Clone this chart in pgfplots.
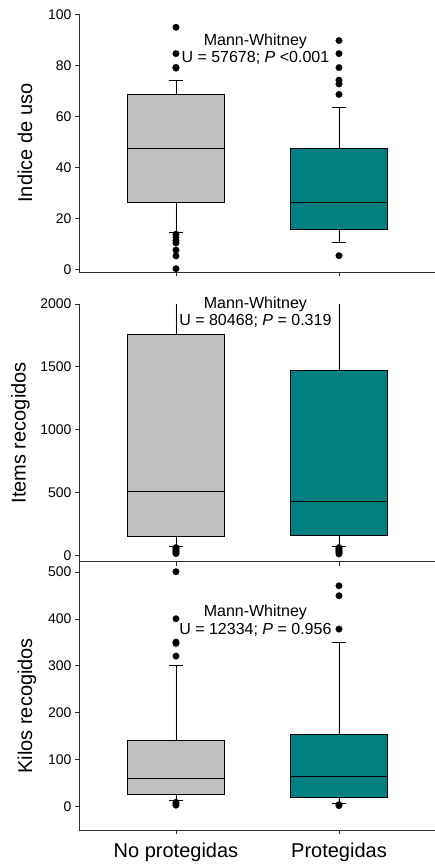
\documentclass[border=0pt]{standalone}
\usepackage{fontspec}
\setmainfont{Liberation Sans}
\usepackage{pgfplots}
\pgfplotsset{compat=1.18}
\usepgfplotslibrary{statistics}
\definecolor{boxgray}{RGB}{192,192,192}
\definecolor{boxteal}{RGB}{0,128,128}
\definecolor{axcol}{RGB}{45,45,45}
\tikzset{mw/.style={font=\fontsize{16}{18}\selectfont, anchor=base, inner sep=0pt}}
\pgfplotsset{
  panel/.style={
    scale only axis, width=356pt,
    xmin=0.405, xmax=2.589,
    axis x line*=bottom, axis y line*=left,
    axis line style={-, draw=axcol, line width=0.9pt},
    tick align=outside, major tick length=4pt,
    tick style={draw=axcol, line width=0.8pt},
    xtick={1,2},
    clip mode=individual,
    /pgf/number format/assume math mode=true,
    /pgf/number format/1000 sep={},
    yticklabel style={font=\fontsize{14}{16}\selectfont},
    xticklabel style={font=\fontsize{20}{24}\selectfont, yshift=-5pt},
    ylabel style={font=\fontsize{20}{24}\selectfont, anchor=base},
    boxplot/draw direction=y,
  },
  gbox/.style={fill=boxgray, draw=black, line width=0.9pt, mark=*, mark size=3.3pt,
    mark options={fill=black, draw=black, line width=0.2pt}},
  tbox/.style={fill=boxteal, draw=black, line width=0.9pt, mark=*, mark size=3.3pt,
    mark options={fill=black, draw=black, line width=0.2pt}},
}
\begin{document}
\begin{tikzpicture}
\useasboundingbox (0,0) rectangle (435pt,-865pt);
% Panel 1
\begin{axis}[panel, at={(79pt,-272pt)}, anchor=south west, height=257.7pt,
  ymin=-1, ymax=100, ytick={0,20,40,60,80,100}, xticklabels={},
  ylabel={Indice de uso}, ylabel style={at={(axis description cs:-0.132,0.5)}}]
\addplot[gbox, boxplot prepared={draw position=1, lower whisker=14.4, lower quartile=26.4,
  median=47.5, upper quartile=68.5, upper whisker=73.9, box extend=0.595, whisker extend=0.09}]
  coordinates {(1,94.9) (1,84.6) (1,79.2) (1,78.9) (1,13.8) (1,12.6) (1,11.4) (1,10.4) (1,7.6) (1,5.3) (1,0.3)};
\addplot[tbox, boxplot prepared={draw position=2, lower whisker=10.6, lower quartile=15.8,
  median=26.4, upper quartile=47.5, upper whisker=63.3, box extend=0.595, whisker extend=0.09}]
  coordinates {(2,89.7) (2,84.6) (2,79.1) (2,74.2) (2,72.7) (2,68.6) (2,5.4)};
\node[mw] at (axis cs:1.487,87.7) {Mann-Whitney};
\node[mw] at (axis cs:1.487,81.2) {U = 57678; \textit{P} <0.001};
\end{axis}
% Panel 2 (upper whiskers run past the top of the axis and are clipped)
\begin{axis}[panel, at={(79pt,-561.7pt)}, anchor=south west, height=257.7pt,
  ymin=-50, ymax=2000, ytick={0,500,1000,1500,2000}, xticklabels={},
  ylabel={Items recogidos}, ylabel style={at={(axis description cs:-0.150,0.5)}}]
\addplot[gbox, boxplot prepared={draw position=1, lower whisker=68, lower quartile=148,
  median=509, upper quartile=1758, upper whisker=2600, box extend=0.595, whisker extend=0.09}]
  coordinates {(1,62) (1,52) (1,42) (1,32) (1,22) (1,15)};
\addplot[tbox, boxplot prepared={draw position=2, lower whisker=68, lower quartile=159,
  median=427, upper quartile=1472, upper whisker=2600, box extend=0.595, whisker extend=0.09}]
  coordinates {(2,62) (2,52) (2,42) (2,32) (2,22) (2,12)};
\node[mw] at (axis cs:1.487,1967) {Mann-Whitney};
\node[mw] at (axis cs:1.487,1827) {U = 80468; \textit{P} = 0.319};
\end{axis}
% Panel 3
\begin{axis}[panel, at={(79pt,-830pt)}, anchor=south west, height=268.3pt,
  ymin=-50, ymax=522, ytick={0,100,200,300,400,500},
  xticklabels={No protegidas, \raisebox{3pt}{Protegidas}},
  ylabel={Kilos recogidos}, ylabel style={at={(axis description cs:-0.132,0.463)}}]
\addplot[gbox, boxplot prepared={draw position=1, lower whisker=12, lower quartile=25.6,
  median=60, upper quartile=140, upper whisker=300, box extend=0.595, whisker extend=0.09}]
  coordinates {(1,500.7) (1,400.4) (1,350.6) (1,348) (1,320.8) (1,9) (1,6) (1,3)};
\addplot[tbox, boxplot prepared={draw position=2, lower whisker=5.7, lower quartile=20,
  median=64.7, upper quartile=154, upper whisker=350.6, box extend=0.595, whisker extend=0.09}]
  coordinates {(2,470.8) (2,449.5) (2,378.4) (2,4) (2,2)};
\node[mw] at (axis cs:1.487,404.6) {Mann-Whitney};
\node[mw] at (axis cs:1.487,366.2) {U = 12334; \textit{P} = 0.956};
\end{axis}
\end{tikzpicture}
\end{document}
